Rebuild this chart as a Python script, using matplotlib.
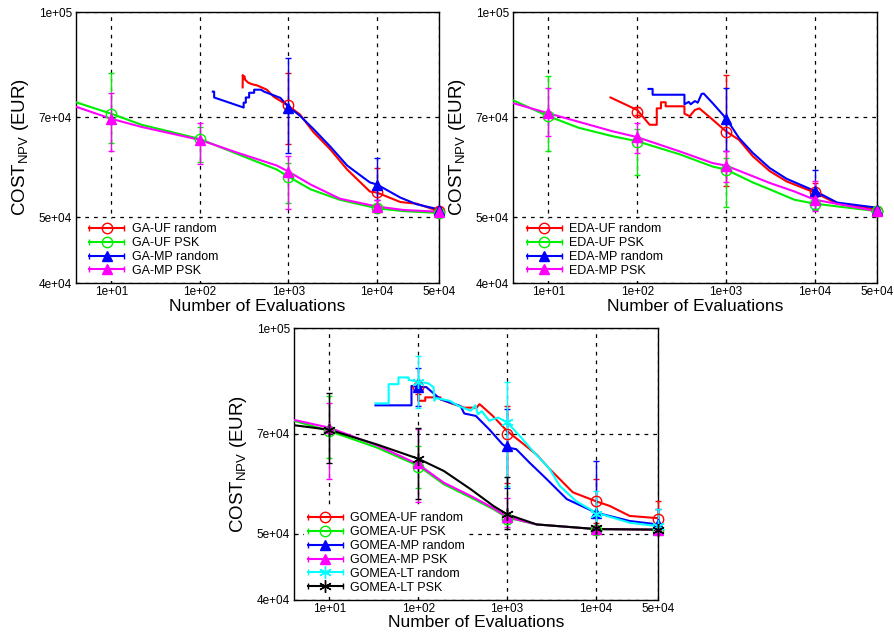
import matplotlib
matplotlib.use('Agg')
import matplotlib.pyplot as plt
from matplotlib.lines import Line2D
from matplotlib.legend_handler import HandlerLine2D, HandlerTuple
from matplotlib.ticker import FixedLocator, FixedFormatter, NullLocator
import numpy as np

plt.rcParams['font.family'] = ['Liberation Sans', 'DejaVu Sans']

# tick positions / labels
X_TICKS = [10, 100, 1000, 10000, 50000]
X_LABELS = ['1e+01', '1e+02', '1e+03', '1e+04', '5e+04']
Y_TICKS = [40000, 50000, 70000, 100000]
Y_LABELS = ['4e+04', '5e+04', '7e+04', '1e+05']

# ---------------- GA panel ----------------
ga_uf_rand_x = [304, 305, 310, 318, 325, 335, 350, 380, 445, 570, 680, 1000, 1350, 1900, 2980, 4600, 8300, 10000, 18300, 28000, 50000]
ga_uf_rand_y = [77500, 80800, 79800, 80500, 79500, 79200, 78800, 78400, 78000, 76900, 75100, 72800, 70700, 66700, 62800, 58700, 54500, 54300, 52600, 52300, 51000]
ga_uf_rand_mx = [1000, 10000, 50000]
ga_uf_rand_my = [72900, 54400, 51000]
ga_uf_rand_hi = [81400, 59100, 51500]
ga_uf_rand_lo = [63900, 52000, 50500]

ga_uf_psk_x = [4, 10, 22, 100, 280, 740, 1000, 1780, 3800, 10000, 20000, 50000]
ga_uf_psk_y = [73700, 70900, 68300, 65100, 61700, 58700, 57300, 54900, 53000, 51500, 51000, 50700]
ga_uf_psk_mx = [10, 100, 1000, 10000, 50000]
ga_uf_psk_my = [70900, 65100, 57300, 51500, 50700]
ga_uf_psk_hi = [81400, 67900, 60000, 52300, 51100]
ga_uf_psk_lo = [64300, 60300, 52400, 50800, 50300]

ga_mp_rand_x = [140, 145, 145, 312, 312, 330, 330, 360, 360, 410, 410, 490, 530, 810, 1000, 1350, 1900, 2980, 4600, 8300, 10000, 18300, 28000, 50000]
ga_mp_rand_y = [76400, 76400, 74900, 72400, 73600, 73600, 74900, 74900, 76100, 76100, 76900, 76900, 76400, 74800, 72600, 70400, 67400, 63400, 59500, 56200, 55800, 53400, 52200, 51300]
ga_mp_rand_mx = [1000, 10000, 50000]
ga_mp_rand_my = [72300, 55800, 51200]
ga_mp_rand_hi = [85600, 61100, 51800]
ga_mp_rand_lo = [62000, 52900, 50700]

ga_mp_psk_x = [4, 10, 22, 100, 280, 740, 1000, 1780, 3800, 10000, 20000, 50000]
ga_mp_psk_y = [72600, 69700, 67800, 64900, 62000, 59500, 58300, 55800, 53200, 51800, 51200, 50900]
ga_mp_psk_mx = [10, 100, 1000, 10000, 50000]
ga_mp_psk_my = [69700, 64900, 58300, 51800, 50900]
ga_mp_psk_hi = [76100, 68800, 61500, 53000, 51300]
ga_mp_psk_lo = [62400, 59900, 51400, 51000, 50500]

# ---------------- EDA panel ----------------
eda_uf_rand_x = [50, 100, 138, 166, 166, 185, 185, 209, 209, 340, 340, 390, 445, 500, 705, 1000, 1400, 2000, 3100, 4800, 10000, 17800, 50000]
eda_uf_rand_y = [74900, 71800, 68300, 68300, 72200, 72200, 73700, 73700, 72700, 72700, 70900, 70300, 71800, 72200, 69500, 66800, 64900, 61400, 58400, 56400, 54300, 52300, 51300]
eda_uf_rand_mx = [100, 1000, 10000, 50000]
eda_uf_rand_my = [71400, 66700, 54500, 51000]
eda_uf_rand_hi = [72500, 80800, 56000, 51400]
eda_uf_rand_lo = [70500, 55500, 52500, 50600]

eda_uf_psk_x = [4, 10, 22, 53, 100, 302, 705, 1000, 2000, 3100, 5900, 10000, 50000]
eda_uf_psk_y = [74200, 70300, 67600, 65700, 64600, 61800, 59300, 58700, 56200, 54900, 53000, 52300, 51000]
eda_uf_psk_mx = [10, 100, 1000, 10000, 50000]
eda_uf_psk_my = [70300, 64500, 58700, 52300, 51000]
eda_uf_psk_hi = [80600, 67400, 61000, 52800, 51300]
eda_uf_psk_lo = [62600, 57600, 51800, 51200, 50600]

eda_mp_rand_x = [134, 149, 149, 340, 340, 380, 400, 445, 480, 530, 560, 705, 1000, 1400, 2000, 3100, 4800, 10000, 17800, 50000]
eda_mp_rand_y = [77100, 77100, 75600, 75600, 73200, 73800, 73200, 74000, 73600, 75800, 75900, 73500, 69800, 65300, 62100, 59000, 56900, 54600, 52500, 51600]
eda_mp_rand_mx = [1000, 10000, 50000]
eda_mp_rand_my = [69700, 54600, 51200]
eda_mp_rand_hi = [77300, 58700, 51700]
eda_mp_rand_lo = [62500, 51300, 50700]

eda_mp_psk_x = [4, 10, 53, 100, 302, 705, 1000, 3100, 5900, 10000, 50000]
eda_mp_psk_y = [73500, 71000, 66800, 65500, 62400, 60000, 59500, 56100, 54500, 53000, 51000]
eda_mp_psk_mx = [10, 100, 1000, 10000, 50000]
eda_mp_psk_my = [71000, 65500, 59500, 53000, 51000]
eda_mp_psk_hi = [77400, 68800, 62400, 56400, 51400]
eda_mp_psk_lo = [65800, 62000, 56200, 51000, 50600]

# ---------------- GOMEA panel ----------------
go_uf_rand_x = [98, 100, 100, 120, 120, 178, 178, 225, 330, 455, 490, 520, 690, 1000, 1380, 2150, 3020, 5500, 10000, 14400, 24000, 50000]
go_uf_rand_y = [81900, 81900, 78300, 78300, 79200, 79200, 78700, 77800, 76500, 76500, 77400, 76900, 74400, 70700, 68400, 65300, 62200, 57500, 55800, 54900, 53100, 52700]
go_uf_rand_mx = [100, 1000, 10000, 50000]
go_uf_rand_my = [81900, 70000, 55800, 52500]
go_uf_rand_hi = [84000, 76900, 60100, 55800]
go_uf_rand_lo = [80000, 59300, 51900, 51000]

go_uf_psk_x = [4, 10, 34, 100, 194, 390, 705, 1000, 2150, 10000, 50000]
go_uf_psk_y = [73200, 70700, 66900, 62900, 59100, 56500, 54300, 52800, 51600, 50800, 50700]
go_uf_psk_mx = [10, 100, 1000, 10000, 50000]
go_uf_psk_my = [70700, 62600, 52500, 50700, 50600]
go_uf_psk_hi = [79500, 67200, 53500, 51100, 51000]
go_uf_psk_lo = [64500, 58400, 51700, 50300, 50200]

go_mp_rand_x = [33, 84, 84, 100, 123, 178, 300, 330, 445, 630, 890, 1000, 1270, 1780, 2800, 4700, 10000, 24000, 50000]
go_mp_rand_y = [77100, 77100, 82300, 82000, 82000, 78700, 76900, 75000, 74400, 71100, 67600, 66900, 66500, 63600, 60100, 56200, 53700, 52200, 51600]
go_mp_rand_mx = [100, 1000, 10000, 50000]
go_mp_rand_my = [82000, 67200, 53700, 51600]
go_mp_rand_hi = [87300, 76100, 63900, 54300]
go_mp_rand_lo = [76900, 58400, 51300, 50800]

go_mp_psk_x = [4, 10, 34, 100, 194, 390, 705, 1000, 2150, 10000, 50000]
go_mp_psk_y = [73400, 71500, 67400, 63200, 59400, 56800, 54500, 52900, 51600, 50800, 50700]
go_mp_psk_mx = [10, 100, 1000, 10000, 50000]
go_mp_psk_my = [71500, 63500, 52900, 50800, 50700]
go_mp_psk_hi = [77800, 71300, 56500, 51200, 51000]
go_mp_psk_lo = [60200, 55600, 51200, 50400, 50300]

go_lt_rand_x = [33, 46.5, 46.5, 60, 60, 78, 78, 100, 131, 149, 152, 160, 225, 280, 390, 440, 470, 520, 630, 790, 1000, 1380, 1950, 3020, 3900, 6000, 10000, 24000, 50000]
go_lt_rand_y = [77600, 77600, 82800, 82800, 84700, 84700, 84000, 83500, 83000, 81900, 78300, 79000, 78300, 77000, 75700, 77100, 74800, 75600, 73200, 74000, 72800, 69600, 66100, 62200, 58800, 55800, 53700, 51900, 51300]
go_lt_rand_mx = [100, 1000, 10000, 50000]
go_lt_rand_my = [83500, 72800, 53400, 51300]
go_lt_rand_hi = [91100, 83500, 57800, 54300]
go_lt_rand_lo = [76500, 58800, 51300, 50700]

go_lt_psk_x = [4, 10, 34, 100, 194, 390, 705, 1000, 2150, 10000, 50000]
go_lt_psk_y = [72100, 71000, 67600, 64400, 61800, 58100, 54900, 53400, 51600, 50800, 50700]
go_lt_psk_mx = [10, 100, 1000, 10000, 50000]
go_lt_psk_my = [71000, 64300, 53400, 50900, 50700]
go_lt_psk_hi = [80500, 71500, 60600, 51300, 51000]
go_lt_psk_lo = [63500, 56300, 50800, 50500, 50300]

RED, GREEN, BLUE, MAG, CYAN, BLACK = '#ff0000', '#00ee00', '#0000ff', '#ff00ff', '#00ffff', '#000000'
STAR = (6, 2, 0)


def series(label, color, marker, filled, x, y, mx, my, hi, lo):
    return dict(label=label, color=color, marker=marker, filled=filled,
                x=x, y=y, mx=mx, my=my, hi=hi, lo=lo)


def draw_panel(ax, all_series, xlabel_y=-0.058):
    handles, labels, hmap = [], [], {}
    for s in all_series:
        c = s['color']
        ax.plot(s['x'], s['y'], color=c, lw=1.5, zorder=3)
        my = np.array(s['my'])
        yerr = [my - np.array(s['lo']), np.array(s['hi']) - my]
        mfc = c if s['filled'] else 'none'
        ms = 9 if s['marker'] == STAR else 7.5
        ax.errorbar(s['mx'], my, yerr=yerr, fmt='none', ecolor=c, elinewidth=1,
                    capsize=2, capthick=1, zorder=4, clip_on=False)
        ax.plot(s['mx'], my, ls='none', marker=s['marker'], color=c, mfc=mfc,
                mec=c, ms=ms, mew=1, zorder=5, clip_on=False)
        # legend sample: horizontal bar with end caps + marker in the middle
        bar = Line2D([], [], color=c, lw=1.5, marker='|', ms=5, mew=1)
        mk = Line2D([], [], color=c, ls='none', marker=s['marker'], mfc=mfc, mec=c, ms=ms, mew=1)
        hmap[bar] = HandlerLine2D(numpoints=2, marker_pad=0)
        hmap[mk] = HandlerLine2D(numpoints=1)
        handles.append((bar, mk))
        labels.append(s['label'])
    hmap[tuple] = HandlerTuple(ndivide=1)

    ax.set_xscale('log')
    ax.set_yscale('log')
    ax.set_xlim(4, 50000)
    ax.set_ylim(40000, 100000)
    ax.xaxis.set_major_locator(FixedLocator(X_TICKS))
    ax.xaxis.set_major_formatter(FixedFormatter(X_LABELS))
    ax.yaxis.set_major_locator(FixedLocator(Y_TICKS))
    ax.yaxis.set_major_formatter(FixedFormatter(Y_LABELS))
    ax.xaxis.set_minor_locator(NullLocator())
    ax.yaxis.set_minor_locator(NullLocator())
    ax.tick_params(direction='in', length=3, labelsize=8.5, pad=3)
    ax.tick_params(axis='x', pad=2)
    ax.grid(True, color='black', ls=(0, (3, 4)), lw=0.9)
    ax.set_axisbelow(True)
    for sp in ax.spines.values():
        sp.set_linewidth(1.0)
    ax.set_xlabel('Number of Evaluations', fontsize=12.5)
    ax.set_ylabel(r'COST$_\mathregular{NPV}$ (EUR)', fontsize=13.5)
    ax.xaxis.set_label_coords(0.5, xlabel_y)
    ax.yaxis.set_label_coords(-0.125, 0.5)

    leg = ax.legend(handles, labels, handler_map=hmap, loc='lower left',
                    bbox_to_anchor=(0.02, 0.0), fontsize=9, handlelength=2.8,
                    handletextpad=0.6, labelspacing=0.15, borderpad=0.3,
                    borderaxespad=0.2, frameon=True, fancybox=False)
    leg.get_frame().set_facecolor('white')
    leg.get_frame().set_edgecolor('none')
    leg.get_frame().set_alpha(1)
    leg.set_zorder(10)


fig = plt.figure(figsize=(8.95, 6.32), dpi=100)
ax1 = fig.add_axes([0.0849, 0.5522, 0.4056, 0.4288])
ax2 = fig.add_axes([0.5732, 0.5522, 0.4067, 0.4288])
ax3 = fig.add_axes([0.3285, 0.0507, 0.4067, 0.4300])

draw_panel(ax1, [
    series('GA-UF random', RED, 'o', False, ga_uf_rand_x, ga_uf_rand_y, ga_uf_rand_mx, ga_uf_rand_my, ga_uf_rand_hi, ga_uf_rand_lo),
    series('GA-UF PSK', GREEN, 'o', False, ga_uf_psk_x, ga_uf_psk_y, ga_uf_psk_mx, ga_uf_psk_my, ga_uf_psk_hi, ga_uf_psk_lo),
    series('GA-MP random', BLUE, '^', True, ga_mp_rand_x, ga_mp_rand_y, ga_mp_rand_mx, ga_mp_rand_my, ga_mp_rand_hi, ga_mp_rand_lo),
    series('GA-MP PSK', MAG, '^', True, ga_mp_psk_x, ga_mp_psk_y, ga_mp_psk_mx, ga_mp_psk_my, ga_mp_psk_hi, ga_mp_psk_lo),
])

draw_panel(ax2, [
    series('EDA-UF random', RED, 'o', False, eda_uf_rand_x, eda_uf_rand_y, eda_uf_rand_mx, eda_uf_rand_my, eda_uf_rand_hi, eda_uf_rand_lo),
    series('EDA-UF PSK', GREEN, 'o', False, eda_uf_psk_x, eda_uf_psk_y, eda_uf_psk_mx, eda_uf_psk_my, eda_uf_psk_hi, eda_uf_psk_lo),
    series('EDA-MP random', BLUE, '^', True, eda_mp_rand_x, eda_mp_rand_y, eda_mp_rand_mx, eda_mp_rand_my, eda_mp_rand_hi, eda_mp_rand_lo),
    series('EDA-MP PSK', MAG, '^', True, eda_mp_psk_x, eda_mp_psk_y, eda_mp_psk_mx, eda_mp_psk_my, eda_mp_psk_hi, eda_mp_psk_lo),
])

draw_panel(ax3, [
    series('GOMEA-UF random', RED, 'o', False, go_uf_rand_x, go_uf_rand_y, go_uf_rand_mx, go_uf_rand_my, go_uf_rand_hi, go_uf_rand_lo),
    series('GOMEA-UF PSK', GREEN, 'o', False, go_uf_psk_x, go_uf_psk_y, go_uf_psk_mx, go_uf_psk_my, go_uf_psk_hi, go_uf_psk_lo),
    series('GOMEA-MP random', BLUE, '^', True, go_mp_rand_x, go_mp_rand_y, go_mp_rand_mx, go_mp_rand_my, go_mp_rand_hi, go_mp_rand_lo),
    series('GOMEA-MP PSK', MAG, '^', True, go_mp_psk_x, go_mp_psk_y, go_mp_psk_mx, go_mp_psk_my, go_mp_psk_hi, go_mp_psk_lo),
    series('GOMEA-LT random', CYAN, STAR, True, go_lt_rand_x, go_lt_rand_y, go_lt_rand_mx, go_lt_rand_my, go_lt_rand_hi, go_lt_rand_lo),
    series('GOMEA-LT PSK', BLACK, STAR, True, go_lt_psk_x, go_lt_psk_y, go_lt_psk_mx, go_lt_psk_my, go_lt_psk_hi, go_lt_psk_lo),
], xlabel_y=-0.055)

fig.savefig('out.png', dpi=100)
